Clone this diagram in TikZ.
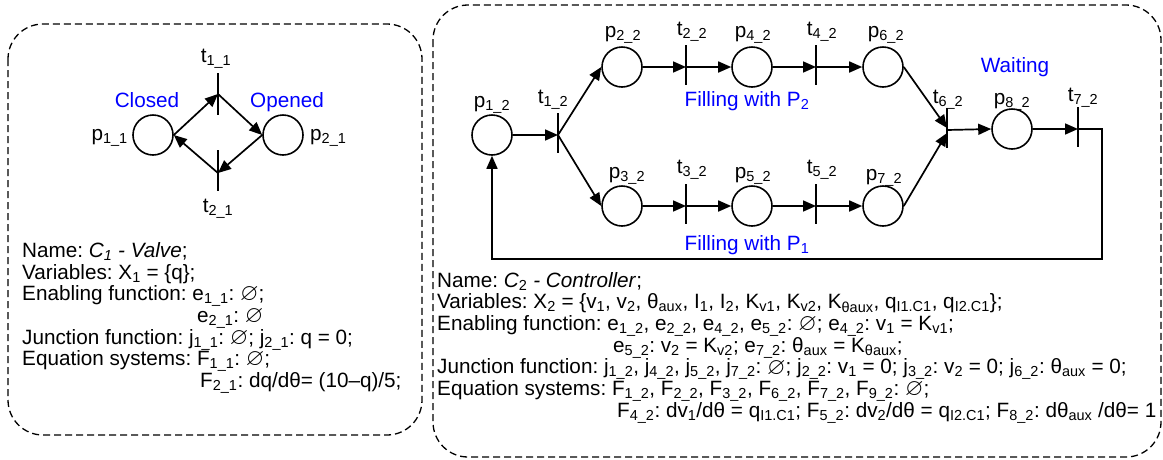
\documentclass[tikz,border=0pt]{standalone}
\usepackage{amssymb}
\usepackage{fontspec}
\setmainfont{Liberation Sans}
\usetikzlibrary{arrows.meta}
\frenchspacing
\newcommand{\sbs}[1]{\textsubscript{#1}}
\newcommand{\es}{\raisebox{-0.3pt}{\scalebox{1.15}{$\varnothing$}}}
\begin{document}
\begin{tikzpicture}[x=1pt,y=-1pt,
 every node/.style={font=\fontsize{20.7}{21}\selectfont\frenchspacing, inner sep=0pt},
 place/.style={circle, draw, line width=1.6pt, minimum size=40pt},
 bar/.style={line width=1.9pt},
 arc/.style={line width=1.7pt, -{Triangle[length=13pt,width=11pt]}},
 lbl/.style={anchor=base},
 note/.style={blue, anchor=base},
 txt/.style={anchor=base west},
 box/.style={draw, dash pattern=on 7pt off 4pt, line width=1.3pt, rounded corners=35pt}]
\useasboundingbox (0,0) rectangle (1163,459);

% boxes
\draw[box] (8,24) rectangle (422,435);
\draw[box] (433,5) rectangle (1161,457);

% ---------- left net ----------
\node[place] (p11) at (153,135) {};
\node[place] (p21) at (283,135) {};
\coordinate (t11) at (218,94);
\coordinate (t21) at (218,173);
\draw[bar] ([yshift=21pt]t11) -- ([yshift=-21pt]t11);
\draw[bar] ([yshift=23pt]t21) -- ([yshift=-18pt]t21);
\draw[arc] (p11.east) -- (t11);
\draw[arc] (t11) -- (p21.west);
\draw[arc] (p21.west) -- (t21);
\draw[arc] (t21) -- (p11.east);
\node[lbl] (lt11) at (216,62) {t\sbs{1\_1}};
\node[lbl] (lt21) at (218,212) {t\sbs{2\_1}};
\node[anchor=base east] (lp11) at (128,140) {p\sbs{1\_1}};
\node[anchor=base west] (lp21) at (310,140) {p\sbs{2\_1}};
\node[note] (closed) at (147,107) {Closed};
\node[note] (opened) at (287,107) {Opened};

% ---------- left text ----------
\node[txt] (l1) at (22,257) {Name: \textit{C\sbs{1} - Valve};};
\node[txt] (l2) at (22,279) {Variables: X\sbs{1} = \{q\};};
\node[txt] (l3) at (22,300) {Enabling function: e\sbs{1\_1}: \es;};
\node[txt] (l4) at (197,322) {e\sbs{2\_1}: \es};
\node[txt] (l5) at (22,344) {Junction function: j\sbs{1\_1}: \es; j\sbs{2\_1}: q = 0;};
\node[txt] (l6) at (22,365) {Equation systems: F\sbs{1\_1}: \es;};
\node[txt] (l7) at (200,387) {F\sbs{2\_1}: dq/dθ= (10–q)/5;};

% ---------- right net ----------
\node[place] (p12) at (492,135) {};
\node[place] (p22) at (622,67) {};
\node[place] (p32) at (622,206) {};
\node[place] (p42) at (752,67) {};
\node[place] (p52) at (752,206) {};
\node[place] (p62) at (883,67) {};
\node[place] (p72) at (883,206) {};
\node[place] (p82) at (1012,129) {};
\coordinate (t12) at (558,135);
\coordinate (t22) at (686,67);
\coordinate (t32) at (686,206);
\coordinate (t42) at (816,67);
\coordinate (t52) at (816,206);
\coordinate (t62) at (947,130);
\coordinate (t72) at (1078,129);
\coordinate (c1) at (1102,259);
\foreach \t in {t12,t22,t32,t42,t52,t62,t72}
  \draw[bar] ([yshift=22pt]\t) -- ([yshift=-18pt]\t);
\draw[arc] (p12.east) -- (t12);
\draw[arc] (t12) -- (p22.west);
\draw[arc] (t12) -- (p32.west);
\draw[arc] (p22.east) -- (t22);
\draw[arc] (t22) -- (p42.west);
\draw[arc] (p42.east) -- (t42);
\draw[arc] (t42) -- (p62.west);
\draw[arc] (p32.east) -- (t32);
\draw[arc] (t32) -- (p52.west);
\draw[arc] (p52.east) -- (t52);
\draw[arc] (t52) -- (p72.west);
\draw[arc] (p62.east) -- ([yshift=2pt]t62);
\draw[arc] (p72.east) -- ([yshift=-3pt]t62);
\draw[arc] (t62) -- (p82.west);
\draw[arc] (p82.east) -- (t72);
\draw[arc] (t72) -| (c1) -| (p12.south);

\node[lbl] (lp12) at (492,107) {p\sbs{1\_2}};
\node[lbl] (lt12) at (553,103) {t\sbs{1\_2}};
\node[lbl] (lp22) at (623,37) {p\sbs{2\_2}};
\node[lbl] (lt22) at (692,35) {t\sbs{2\_2}};
\node[lbl] (lp42) at (753,37) {p\sbs{4\_2}};
\node[lbl] (lt42) at (822,35) {t\sbs{4\_2}};
\node[lbl] (lp62) at (886,37) {p\sbs{6\_2}};
\node[lbl] (lp32) at (627,178) {p\sbs{3\_2}};
\node[lbl] (lt32) at (692,173) {t\sbs{3\_2}};
\node[lbl] (lp52) at (753,178) {p\sbs{5\_2}};
\node[lbl] (lt52) at (822,173) {t\sbs{5\_2}};
\node[lbl] (lp72) at (884,180) {p\sbs{7\_2}};
\node[lbl] (lt62) at (948,103) {t\sbs{6\_2}};
\node[lbl] (lp82) at (1012,104) {p\sbs{8\_2}};
\node[lbl] (lt72) at (1083,101) {t\sbs{7\_2}};
\node[note] (waiting) at (1015,72) {Waiting};
\node[note] (fill2) at (747,106) {Filling with P\sbs{2}};
\node[note] (fill1) at (747,250) {Filling with P\sbs{1}};

% ---------- right text ----------
\node[txt] (r1) at (437,287) {Name: \textit{C}\sbs{2}\textit{ - Controller};};
\node[txt] (r2) at (437,308.7) {Variables: X\sbs{2} = \{v\sbs{1}, v\sbs{2}, θ\sbs{aux}, I\sbs{1}, I\sbs{2}, K\sbs{v1}, K\sbs{v2}, K\sbs{θaux}, q\sbs{I1.C1}, q\sbs{I2.C1}\};};
\node[txt] (r3) at (437,330.4) {Enabling function: e\sbs{1\_2}, e\sbs{2\_2}, e\sbs{4\_2}, e\sbs{5\_2}: \es; e\sbs{4\_2}: v\sbs{1} = K\sbs{v1};};
\node[txt] (r4) at (613,352.1) {e\sbs{5\_2}: v\sbs{2} = K\sbs{v2}; e\sbs{7\_2}: θ\sbs{aux} = K\sbs{θaux};};
\node[txt] (r5) at (437,373.8) {Junction function: j\sbs{1\_2}, j\sbs{4\_2}, j\sbs{5\_2}, j\sbs{7\_2}: \es; j\sbs{2\_2}: v\sbs{1} = 0; j\sbs{3\_2}: v\sbs{2} = 0; j\sbs{6\_2}: θ\sbs{aux} = 0;};
\node[txt] (r6) at (437,395.5) {Equation systems: F\sbs{1\_2}, F\sbs{2\_2}, F\sbs{3\_2}, F\sbs{6\_2}, F\sbs{7\_2}, F\sbs{9\_2}: \es;};
\node[txt] (r7) at (617,417.2) {F\sbs{4\_2}: dv\sbs{1}/dθ = q\sbs{I1.C1}; F\sbs{5\_2}: dv\sbs{2}/dθ = q\sbs{I2.C1}; F\sbs{8\_2}: dθ\sbs{aux} /dθ= 1};
\end{tikzpicture}
\end{document}
